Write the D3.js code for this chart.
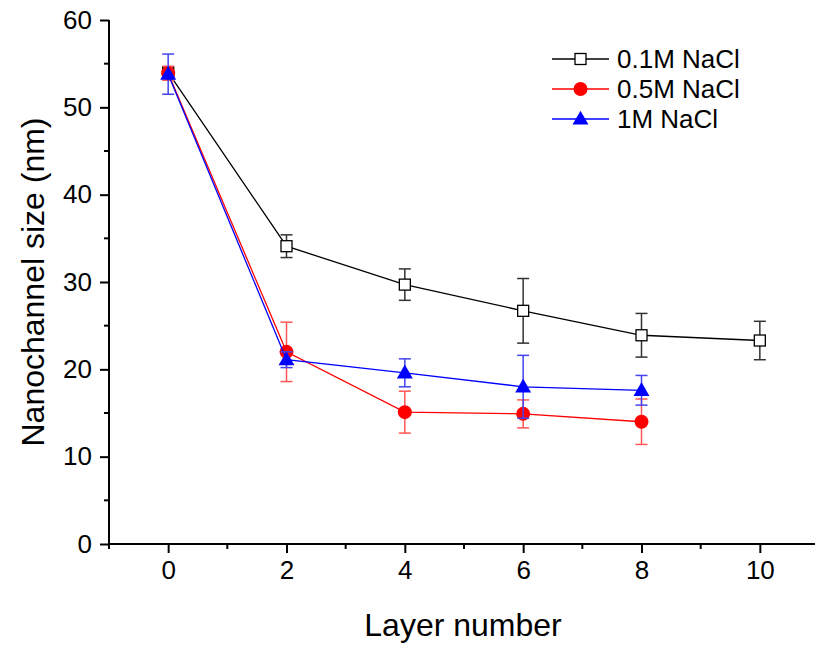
<!DOCTYPE html>
<html>
<head>
<meta charset="utf-8">
<script src="https://cdn.jsdelivr.net/npm/d3@7"></script>
<style>
  body { margin: 0; background: #fff; }
  text { font-family: "Liberation Sans", Arial, sans-serif; fill: #000; }
</style>
</head>
<body>
<div id="chart"></div>
<script>

var layers01 = [0, 2, 4, 6, 8, 10]
var size01 = [54.0, 34.1, 29.7, 26.7, 23.9, 23.3]
var err01 = [0.6, 1.3, 1.8, 3.7, 2.5, 2.2]

var layers05 = [0, 2, 4, 6, 8]
var size05 = [53.9, 22.0, 15.1, 14.9, 14.0]
var err05 = [0.8, 3.4, 2.4, 1.6, 2.6]

var layers1 = [0, 2, 4, 6, 8]
var size1 = [53.8, 21.1, 19.6, 18.0, 17.6]
var err1 = [2.3, 0.9, 1.6, 3.6, 1.7]

var xMajor = [0, 2, 4, 6, 8, 10]
var xMinor = [-1, 1, 3, 5, 7, 9]
var yMajor = [0, 10, 20, 30, 40, 50, 60]
var yMinor = [5, 15, 25, 35, 45, 55]

var seriesNames = ["0.1M NaCl", "0.5M NaCl", "1M NaCl"]

var width = 815, height = 645

var series = [
    { name: seriesNames[0], xs: layers01, ys: size01, es: err01, color: "#000", errColor: "#333", shape: "square" },
    { name: seriesNames[1], xs: layers05, ys: size05, es: err05, color: "#ff0000", errColor: "#ff5555", shape: "circle" },
    { name: seriesNames[2], xs: layers1, ys: size1, es: err1, color: "#0000ff", errColor: "#4444ee", shape: "triangle" }
]

var x = d3.scaleLinear().domain([-1, 11]).range([109, 819])
var y = d3.scaleLinear().domain([0, 60]).range([544, 20])

var svg = d3.select("#chart").append("svg")
    .attr("width", width)
    .attr("height", height)

// axes
var xAxis = svg.append("g").attr("transform", "translate(0," + y(0) + ")")
xAxis.call(d3.axisBottom(x).tickValues(xMajor).tickSize(9).tickPadding(8).tickFormat(d3.format("d")))
xAxis.append("g").selectAll("line").data(xMinor).enter().append("line")
    .attr("x1", function(d) { return x(d) }).attr("x2", function(d) { return x(d) })
    .attr("y1", 0).attr("y2", 5)
    .attr("stroke", "#000").attr("stroke-width", 2)

var yAxis = svg.append("g").attr("transform", "translate(" + x(-1) + ",0)")
yAxis.call(d3.axisLeft(y).tickValues(yMajor).tickSize(9).tickPadding(8).tickFormat(d3.format("d")))
yAxis.append("g").selectAll("line").data(yMinor).enter().append("line")
    .attr("y1", function(d) { return y(d) }).attr("y2", function(d) { return y(d) })
    .attr("x1", 0).attr("x2", -5)
    .attr("stroke", "#000").attr("stroke-width", 2)

xAxis.select(".domain").attr("d", "M" + x(-1) + ",0H" + x(11))
yAxis.select(".domain").attr("d", "M0," + y(0) + "V" + y(60))
svg.selectAll(".domain").attr("stroke", "#000").attr("stroke-width", 2)
svg.selectAll(".tick line").attr("stroke", "#000").attr("stroke-width", 2)
svg.selectAll(".tick text").style("font-size", "26px").style("font-family", "'Liberation Sans', Arial, sans-serif")

// axis titles
svg.append("text")
    .attr("x", 463).attr("y", 636)
    .attr("text-anchor", "middle")
    .style("font-size", "32px")
    .text("Layer number")

svg.append("text")
    .attr("transform", "translate(44,282) rotate(-90)")
    .attr("text-anchor", "middle")
    .style("font-size", "32px")
    .text("Nanochannel size (nm)")

function drawMarker(g, shape, color) {
    if (shape === "square") {
        g.append("rect").attr("x", -5.5).attr("y", -5.5).attr("width", 11).attr("height", 11)
            .attr("fill", "#fff").attr("stroke", color).attr("stroke-width", 1.3)
    } else if (shape === "circle") {
        g.append("circle").attr("r", 7).attr("fill", color)
    } else {
        g.append("path").attr("d", d3.symbol().type(d3.symbolTriangle).size(110)())
            .attr("transform", "translate(0,1)")
            .attr("fill", color)
    }
}

var line = d3.line()

series.forEach(function(s) {

    var g = svg.append("g")
    var pts = s.xs.map(function(d, i) { return [x(d), y(s.ys[i])] })

    g.append("path")
        .attr("d", line(pts))
        .attr("fill", "none")
        .attr("stroke", s.color)
        .attr("stroke-width", 1.3)

    // error bars
    s.xs.forEach(function(d, i) {
        var cx = x(d), top = y(s.ys[i] + s.es[i]), bot = y(s.ys[i] - s.es[i])
        var eb = g.append("g").attr("stroke", s.errColor).attr("stroke-width", 1.5)
        eb.append("line").attr("x1", cx).attr("x2", cx).attr("y1", top).attr("y2", bot)
        eb.append("line").attr("x1", cx - 6).attr("x2", cx + 6).attr("y1", top).attr("y2", top)
        eb.append("line").attr("x1", cx - 6).attr("x2", cx + 6).attr("y1", bot).attr("y2", bot)
    })

    pts.forEach(function(p) {
        var m = g.append("g").attr("transform", "translate(" + p[0] + "," + p[1] + ")")
        drawMarker(m, s.shape, s.color)
    })
})

// legend
var legend = svg.append("g")
series.forEach(function(s, i) {
    var ly = 59 + i * 30
    var row = legend.append("g").attr("transform", "translate(0," + ly + ")")
    row.append("line").attr("x1", 552).attr("x2", 609).attr("y1", 0).attr("y2", 0)
        .attr("stroke", s.color).attr("stroke-width", 1.3)
    var m = row.append("g").attr("transform", "translate(580.5,0)")
    drawMarker(m, s.shape, s.color)
    row.append("text").attr("x", 617).attr("y", 9)
        .style("font-size", "26px")
        .text(s.name)
})

</script>
</body>
</html>
